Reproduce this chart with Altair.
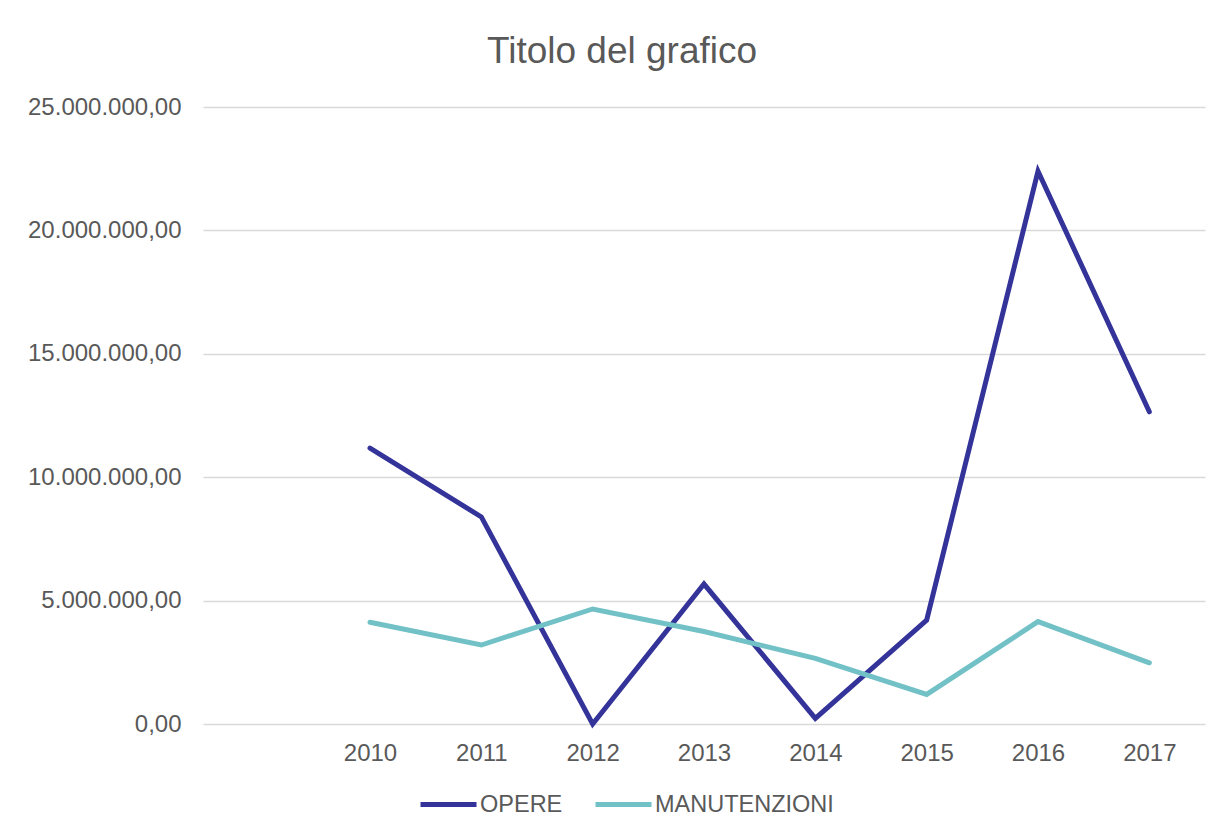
import altair as alt
import pandas as pd

years = ["2010", "2011", "2012", "2013", "2014", "2015", "2016", "2017"]
opere = [11180000, 8390000, 0, 5670000, 230000, 4210000, 22400000, 12650000]
manutenzioni = [4120000, 3200000, 4660000, 3750000, 2660000, 1200000, 4150000, 2480000]
series = ["OPERE", "MANUTENZIONI"]
colors = ["#333399", "#72c1c6"]
x_domain = [" "] + years
y_ticks = [0, 5000000, 10000000, 15000000, 20000000, 25000000]

rows = []
for s, vals in zip(series, [opere, manutenzioni]):
    for y, v in zip(years, vals):
        rows.append({"anno": y, "valore": v, "serie": s})
df = pd.DataFrame(rows)

label_expr = ("replace(replace(replace(format(datum.value, ',.2f'), regexp(',', 'g'), '#'), "
              "regexp('[.]', 'g'), ','), regexp('#', 'g'), '.')")

chart = alt.Chart(df).mark_line(strokeWidth=5, strokeCap="round", strokeJoin="miter").encode(
    x=alt.X("anno:O", scale=alt.Scale(type="point", domain=x_domain, padding=0.5),
            axis=alt.Axis(title=None, labelAngle=0, domain=False, ticks=False, grid=False,
                          labelPadding=17, labelFontSize=24, labelColor="#595959",
                          labelFont="Liberation Sans")),
    y=alt.Y("valore:Q", scale=alt.Scale(domain=[0, 25000000], nice=False),
            axis=alt.Axis(title=None, values=y_ticks, labelExpr=label_expr, domain=False,
                          ticks=False, labelPadding=22, labelFontSize=24, labelColor="#595959",
                          labelFont="Liberation Sans", gridColor="#d9d9d9", gridWidth=1.5)),
    color=alt.Color("serie:N", scale=alt.Scale(domain=series, range=colors),
                    legend=alt.Legend(title=None, orient="none", legendX=215, legendY=667,
                                      direction="horizontal", symbolType="stroke",
                                      symbolSize=3136, symbolStrokeWidth=5, labelOffset=1,
                                      columnPadding=22, labelFontSize=23.5, labelColor="#595959",
                                      labelFont="Liberation Sans", labelLimit=400)),
).properties(
    width=1002, height=617,
    padding={"left": 195, "top": 99, "right": 3, "bottom": 106},
    autosize=alt.AutoSizeParams(type="none"),
    title=alt.TitleParams("Titolo del grafico", fontSize=37, font="Liberation Sans",
                          fontWeight="normal", color="#595959", anchor="middle",
                          frame="group", dx=-82, offset=24),
).configure_view(stroke=None)

chart.save("out.html", embed_options={"renderer": "svg", "actions": False})
